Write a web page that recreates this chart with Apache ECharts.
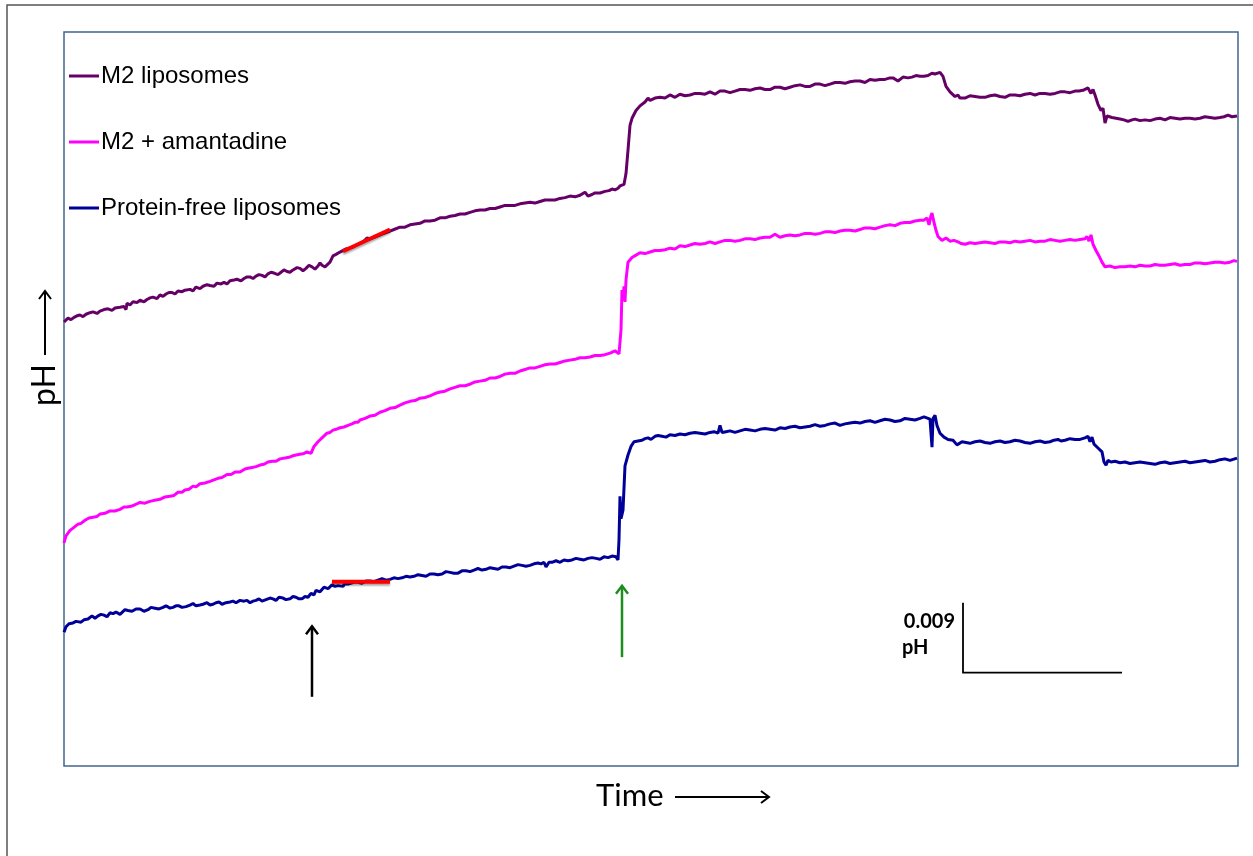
<!DOCTYPE html>
<html><head><meta charset="utf-8">
<script src="https://cdn.jsdelivr.net/npm/echarts@6/dist/echarts.min.js"></script>
<style>html,body{margin:0;padding:0;background:#fff}#c{width:1253px;height:856px}</style>
</head><body><div id="c"></div>
<script>
// Time in arbitrary units (s); pH change in milli-pH units relative to an arbitrary baseline
const seriesNames = ['M2 liposomes', 'M2 + amantadine', 'Protein-free liposomes'];
const seriesColors = ['#660066', '#ff00ff', '#000099'];

const m2Liposomes = [
[0,57.1],[4,57.6],[7,57.4],[10,57.7],[13,57.9],[16,58.0],[19,57.8],[22,58.1],[26,58.3],[29,58.4],[33,58.2],[36,58.5],[40,58.7],[44,58.8],[48,58.6],[51,58.9],[56,59.0],[60,59.1],[62,58.7],[63,59.5],[66,59.3],[69,59.7],[73,59.6],[76,59.9],[80,59.7],[83,60.0],[86,60.2],[89,60.3],[93,60.1],[96,60.6],[99,60.4],[102,60.7],[105,60.9],[108,60.9],[111,60.7],[114,61.1],[118,61.0],[121,61.2],[126,61.3],[129,61.1],[132,61.6],[136,61.4],[139,61.7],[143,61.9],[146,61.8],[150,61.7],[153,62.1],[157,62.0],[160,62.2],[163,62.0],[166,62.4],[170,62.5],[173,62.6],[177,62.4],[180,62.7],[183,62.9],[186,62.9],[189,62.7],[192,63.0],[195,63.2],[198,63.1],[201,62.9],[204,63.3],[207,63.5],[210,63.4],[214,63.2],[217,63.5],[220,63.8],[223,63.6],[226,63.5],[229,63.8],[233,64.1],[236,64.0],[239,63.7],[242,64.0],[245,64.4],[248,64.2],[251,63.9],[254,64.3],[256,64.7],[258,64.4],[261,64.2],[263,64.4],[266,64.8],[269,65.6],[272,65.8],[276,66.1],[282,66.5],[288,66.7],[294,67.1],[300,67.5],[303,67.9],[306,67.8],[312,68.1],[318,68.4],[324,68.7],[330,69.0],[336,69.3],[341,69.3],[346,69.6],[351,69.7],[356,69.8],[361,70.1],[366,70.1],[371,70.2],[376,70.5],[381,70.5],[386,70.7],[391,70.8],[396,71.0],[401,71.0],[406,71.2],[411,71.4],[416,71.5],[421,71.5],[426,71.7],[431,71.7],[436,71.9],[441,72.1],[446,72.1],[451,72.1],[456,72.3],[461,72.4],[466,72.5],[471,72.4],[476,72.6],[481,72.8],[486,72.8],[491,72.8],[496,73.0],[501,73.1],[506,73.3],[511,73.2],[516,73.4],[521,73.8],[524,73.3],[528,73.5],[531,73.7],[536,73.7],[541,73.9],[545,74.0],[548,74.2],[551,74.1],[554,74.3],[556,74.6],[558,74.4],[560,74.8],[562,76.2],[564,79.2],[566,82.4],[568,83.3],[572,84.3],[576,84.9],[581,85.4],[584,85.9],[586,85.6],[591,85.9],
[596,86.0],[601,85.9],[606,86.3],[611,86.0],[616,86.4],[621,86.2],[626,86.3],[631,86.5],[636,86.5],[641,86.4],[646,86.7],[651,86.4],[656,86.8],[661,86.8],[666,86.6],[671,86.8],[676,87.0],[681,87.0],[686,86.9],[691,87.1],[696,87.2],[701,87.0],[706,87.0],[711,87.3],[716,87.3],[721,87.1],[726,87.3],[731,87.5],[736,87.6],[741,87.4],[746,87.4],[751,87.7],[756,87.7],[761,87.5],[766,87.7],[771,87.9],[776,87.9],[781,87.8],[786,88.0],[791,88.1],[796,88.1],[801,87.9],[806,88.3],[811,88.2],[816,88.3],[821,88.3],[826,88.5],[829,88.5],[834,88.1],[839,88.6],[844,88.5],[848,88.6],[852,88.8],[856,88.7],[860,88.7],[864,88.8],[868,89.1],[871,89.0],[876,89.2],
[879,88.7],[882,87.4],[886,86.7],[891,86.1],[894,86.3],[896,85.9],
[901,85.9],[906,86.2],[911,86.1],[916,86.0],[921,86.0],[926,86.2],[931,86.3],[936,86.1],[941,86.0],[946,86.3],[951,86.3],[956,86.2],[961,86.4],[966,86.5],[971,86.3],[976,86.5],[981,86.5],[986,86.4],[991,86.5],[996,86.7],[1001,86.7],[1006,86.6],[1011,86.8],[1015,86.8],[1019,86.9],
[1021,86.9],[1024,87.2],[1027,86.5],[1029,87.0],[1031,86.3],[1034,85.1],[1037,84.3],[1039,84.6],[1041,82.7],[1043,83.6],
[1048,83.4],[1052,83.3],[1056,83.2],[1060,83.1],[1064,82.9],[1068,83.1],[1071,83.2],[1076,83.0],[1081,83.1],[1086,83.0],[1091,83.2],[1096,83.3],[1101,83.1],[1106,83.4],[1111,83.3],[1116,83.2],[1121,83.3],[1126,83.3],[1131,83.2],[1136,83.3],[1141,83.5],[1146,83.4],[1151,83.3],[1156,83.4],[1160,83.5],[1164,83.7],[1168,83.5],[1173,83.6]
];

const m2Amantadine = [
[0,28.7],[2,29.6],[4,29.8],[6,30.3],[9,30.6],[11,30.5],[14,31.1],[17,31.2],[21,31.6],[25,31.9],[29,32.0],[33,32.1],[36,32.4],[41,32.5],[46,32.8],[51,32.8],[56,33.0],[60,33.3],[63,33.3],[67,33.4],[71,33.6],[76,33.9],[81,33.8],[85,34.0],[88,34.1],[92,34.2],[96,34.3],[101,34.6],[106,34.7],[110,34.8],[114,35.2],[118,35.2],[121,35.5],[125,35.6],[129,36.0],[132,35.9],[136,36.3],[141,36.4],[146,36.6],[150,36.8],[154,37.0],[158,37.1],[163,37.5],[167,37.5],[171,37.8],[176,37.8],[181,38.2],[184,38.3],[188,38.4],[192,38.5],[196,38.7],[200,38.8],[204,39.1],[208,39.2],[212,39.2],[216,39.5],[221,39.6],[225,39.7],[229,39.9],[232,40.0],[236,40.1],[240,40.2],[243,40.4],[247,40.2],[250,41.1],[252,41.0],[254,41.7],[258,42.2],[263,42.8],[266,42.9],[269,43.2],[272,43.3],[276,43.5],[280,43.6],[284,43.8],[288,44.0],[291,44.2],[294,44.2],[296,44.5],[301,44.7],[306,45.0],[311,45.1],[316,45.5],[321,45.7],[326,46.0],[331,46.1],[336,46.4],[341,46.7],[346,46.9],[351,47.0],[356,47.3],[361,47.4],[366,47.6],[371,47.9],[376,48.1],[381,48.2],[386,48.5],[391,48.7],[396,48.9],[401,48.9],[406,49.1],[411,49.4],[416,49.5],[421,49.6],[426,49.9],[431,49.9],[436,50.1],[441,50.4],[446,50.5],[451,50.5],[456,50.8],[461,51.0],[466,51.2],[471,51.2],[476,51.4],[481,51.6],[486,51.7],[491,51.7],[496,51.9],[501,52.1],[506,52.2],[511,52.3],[516,52.5],[521,52.5],[526,52.6],[531,52.8],[536,52.8],[541,52.9],[546,53.1],[551,53.4],[553,53.5],[555,53.0],
[557,56.1],[558,61.2],[559,59.9],[560,61.7],[561,59.7],[562,62.5],[564,64.8],[568,65.4],[572,65.7],[576,66.0],[581,65.9],[586,66.1],[591,66.3],[596,66.3],[601,66.4],[606,66.6],[611,66.5],[616,66.9],[621,66.8],[626,67.0],[631,67.2],[636,67.1],[641,67.2],[646,67.4],[651,67.2],[656,67.4],[661,67.6],[666,67.6],[671,67.5],[676,67.6],[681,67.8],[686,67.8],[691,67.7],[696,67.9],[701,68.0],[706,68.0],[711,68.4],[716,68.0],[721,68.2],[726,68.3],[731,68.2],[736,68.3],[741,68.5],[746,68.5],[751,68.4],[756,68.5],[761,68.7],[766,68.7],[771,68.6],[776,68.8],[781,68.9],[786,68.9],[791,68.8],[796,69.0],[801,69.2],[806,69.2],[811,69.1],[816,69.3],[821,69.5],[826,69.6],[831,69.5],[836,69.8],[841,69.9],[846,69.9],[851,70.1],[856,70.2],[860,70.2],[863,70.5],[865,69.6],[867,70.8],[868,71.1],[870,69.9],[872,68.9],[874,68.1],[878,67.6],[882,67.9],[886,67.5],[890,67.6],[894,67.4],
[897,67.2],[901,67.1],[906,67.3],[911,67.2],[916,67.3],[921,67.4],[926,67.3],[931,67.2],[936,67.4],[941,67.4],[946,67.3],[951,67.5],[956,67.4],[961,67.5],[966,67.6],[971,67.4],[976,67.5],[981,67.5],[986,67.7],[991,67.6],[996,67.5],[1001,67.6],[1006,67.7],[1011,67.6],[1016,67.7],[1021,67.8],[1023,68.1],[1025,67.5],[1027,68.3],[1029,67.1],[1032,66.3],[1035,65.6],[1038,64.8],[1041,64.2],
[1046,64.3],[1051,64.1],[1056,64.2],[1061,64.2],[1066,64.3],[1071,64.2],[1076,64.4],[1081,64.3],[1086,64.3],[1091,64.5],[1096,64.4],[1101,64.4],[1106,64.5],[1111,64.6],[1116,64.4],[1121,64.5],[1126,64.5],[1131,64.7],[1136,64.7],[1141,64.6],[1146,64.7],[1151,64.8],[1156,64.8],[1161,64.7],[1166,64.8],[1170,65.0],[1173,64.9]
];

const proteinFree = [
[0,17.2],[2,17.9],[5,18.3],[7,18.1],[9,18.4],[12,18.6],[14,18.5],[17,18.5],[20,18.8],[22,18.6],[24,18.9],[26,19.1],[28,19.3],[31,19.0],[34,19.3],[37,19.5],[40,19.4],[43,19.2],[46,19.7],[49,19.6],[52,19.8],[54,19.9],[56,19.5],[58,19.7],[61,20.1],[64,20.0],[68,19.9],[72,20.2],[76,20.2],[80,19.9],[84,20.1],[87,20.4],[91,20.3],[95,20.2],[99,20.4],[102,20.6],[106,20.3],[109,20.4],[112,20.6],[115,20.6],[118,20.4],[122,20.5],[126,20.7],[129,20.9],[132,20.6],[136,20.7],[139,20.8],[143,21.0],[146,20.7],[149,20.8],[152,21.0],[155,21.1],[158,20.8],[162,21.0],[166,21.1],[169,21.2],[172,21.0],[176,21.3],[180,21.2],[183,21.3],[186,21.0],[189,21.2],[192,21.3],[195,21.5],[198,21.2],[202,21.4],[206,21.6],[209,21.5],[212,21.3],[215,21.7],[219,21.6],[222,21.4],[226,21.5],[229,21.8],[232,21.7],[235,21.5],[238,21.5],[241,21.8],[244,21.7],[247,22.2],[250,22.0],[252,22.6],[254,22.4],[256,22.4],[258,22.6],[260,23.0],[262,22.9],[264,22.8],[266,23.0],[268,23.3],[271,23.1],[274,23.2],[276,23.3],[279,23.1],[281,23.5],[284,23.4],[286,23.3],[289,23.6],[292,23.7],[295,23.6],[298,23.5],[302,23.8],[306,23.8],[310,23.7],[314,23.9],[318,24.1],[322,23.9],[326,24.0],[330,24.2],[334,24.1],[338,24.2],[342,24.4],[346,24.3],[350,24.4],[354,24.6],[358,24.5],[362,24.4],[366,24.7],[370,24.7],[374,24.6],[378,24.7],[382,25.0],[386,24.9],[390,24.8],[394,24.8],[398,25.1],[402,25.1],[406,25.0],[410,25.2],[414,25.4],[418,25.2],[422,25.3],[426,25.5],[430,25.4],[434,25.3],[438,25.6],[442,25.6],[446,25.5],[450,25.7],[454,25.9],[458,25.8],[462,25.7],[466,25.8],[470,26.0],[474,26.1],[477,26.0],[480,26.2],[482,25.6],[485,26.2],[488,26.2],[492,26.4],[496,26.2],[500,26.5],[504,26.4],[508,26.5],[512,26.7],[516,26.6],[520,26.5],[524,26.7],[528,26.8],[532,26.7],[536,26.6],[540,26.9],[544,26.8],[548,27.0],[552,26.9],[554,26.5],
[555,29.1],[556,34.7],[557,31.8],[559,32.9],[561,38.6],[564,40.0],[567,41.1],[570,41.7],[572,41.5],[574,41.8],[576,41.6],[578,41.9],[581,42.1],[584,42.2],[587,42.0],[591,42.4],[594,42.5],[598,42.4],[602,42.3],[606,42.6],[611,42.5],[616,42.7],[621,42.6],[626,42.8],[631,42.9],[636,42.8],[641,42.7],[646,42.9],[650,43.0],[654,42.8],[656,43.8],[658,42.9],[662,43.0],[666,43.1],[671,42.9],[676,43.1],[681,43.3],[686,43.2],[691,43.1],[696,43.3],[701,43.4],[706,43.3],[711,43.2],[716,43.5],[721,43.4],[726,43.6],[731,43.7],[736,43.5],[741,43.6],[746,43.7],[751,43.9],[756,43.7],[761,43.8],[766,44.0],[771,44.1],[776,43.8],[781,44.0],[786,44.1],[791,44.2],[796,44.1],[801,44.3],[806,44.4],[811,44.2],[816,44.4],[821,44.6],[826,44.5],[831,44.3],[836,44.4],[841,44.7],[846,44.6],[851,44.5],[856,44.7],[860,44.9],[862,44.9],[866,44.6],[868,41.0],[869,44.7],[871,45.1],[873,43.8],[876,42.8],[880,42.3],[884,42.0],[889,41.9],[893,41.3],[898,41.7],
[902,41.6],[906,41.5],[911,41.7],[916,41.8],[921,41.6],[926,41.5],[931,41.7],[936,41.8],[941,41.6],[946,41.7],[951,41.9],[956,41.8],[961,41.6],[966,41.5],[971,41.7],[976,41.8],[981,41.6],[986,41.7],[990,41.9],[994,42.0],[997,41.8],[1001,41.9],[1006,42.1],[1011,42.0],[1016,42.0],[1021,42.2],[1024,42.4],[1026,41.7],[1028,42.3],[1030,41.4],[1034,40.9],[1038,40.4],[1040,39.1],[1042,38.7],[1044,39.3],
[1047,39.1],[1051,39.2],[1056,39.0],[1061,39.1],[1066,38.9],[1071,39.0],[1076,39.1],[1081,39.0],[1086,38.9],[1091,38.8],[1096,39.0],[1101,39.1],[1106,38.9],[1111,39.0],[1116,39.1],[1121,39.2],[1126,39.0],[1131,39.1],[1136,39.2],[1141,39.3],[1146,39.1],[1151,39.2],[1156,39.4],[1161,39.5],[1166,39.3],[1173,39.6]
];

// initial-rate fit segments (red)
const rateFits = [
  [[279, 66.2], [326, 69.0]],
  [[268, 23.7], [326, 23.7]]
];
// addition arrows: [time, tail value, tip value]
const additionArrows = [[248, 8.9, 18.1], [558, 14.0, 23.3]];
const arrowColors = ['#000000', '#1f8c1f'];
// scale bar: corner time, corner value, 0.009 pH = 9 milli-pH, time length
const scaleBar = [[899, 12.0, 9, 159]];
const scaleBarLabels = ['0.009', 'pH'];

const chart = echarts.init(document.getElementById('c'), null, {renderer: 'canvas'});
const traces = [m2Liposomes, m2Amantadine, proteinFree];

const series = traces.map((d, i) => ({
  name: seriesNames[i], type: 'line', data: d, showSymbol: false, symbol: 'none',
  lineStyle: {color: seriesColors[i], width: 3}, itemStyle: {color: seriesColors[i]},
  z: 3, silent: true
}));

rateFits.forEach(seg => series.push({
  type: 'line', data: seg, showSymbol: false, symbol: 'none', silent: true, z: 6,
  lineStyle: {color: '#ff0000', width: 4, shadowColor: 'rgba(0,0,0,0.35)', shadowBlur: 2, shadowOffsetY: 2}
}));

series.push({
  type: 'custom', silent: true, z: 5,
  renderItem: function (params, api) {
    const p0 = api.coord([api.value(0), api.value(1)]);
    const p1 = api.coord([api.value(0), api.value(2)]);
    const c = api.visual('color');
    return {type: 'group', children: [
      {type: 'line', shape: {x1: p0[0], y1: p0[1], x2: p1[0], y2: p1[1] + 1}, style: {stroke: c, lineWidth: 2.5}},
      {type: 'polyline', shape: {points: [[p1[0] - 6, p1[1] + 9], [p1[0], p1[1] + 1], [p1[0] + 6, p1[1] + 9]]}, style: {stroke: c, lineWidth: 2.5, fill: null}}
    ]};
  },
  data: additionArrows.map((a, i) => ({value: a, itemStyle: {color: arrowColors[i]}}))
});

series.push({
  type: 'custom', silent: true, z: 5,
  renderItem: function (params, api) {
    const c0 = api.coord([api.value(0), api.value(1)]);
    const cTop = api.coord([api.value(0), api.value(1) + api.value(2)]);
    const cRight = api.coord([api.value(0) + api.value(3), api.value(1)]);
    const font = 'bold 20px Lato';
    return {type: 'group', children: [
      {type: 'polyline', shape: {points: [cTop, c0, cRight]}, style: {stroke: '#000', lineWidth: 1.8, fill: null}},
      {type: 'text', x: c0[0] - 8, y: cTop[1] + 19, style: {text: scaleBarLabels[0], font: font, fill: '#000', textAlign: 'right', textVerticalAlign: 'middle'}},
      {type: 'text', x: c0[0] - 61, y: cTop[1] + 45, style: {text: scaleBarLabels[1], font: font, fill: '#000', textAlign: 'left', textVerticalAlign: 'middle'}}
    ]};
  },
  data: scaleBar
});

chart.setOption({
  animation: false,
  backgroundColor: '#fff',
  grid: {left: 64, right: 15, top: 32, bottom: 90, show: true, borderColor: '#41668f', borderWidth: 1.5, backgroundColor: 'transparent'},
  xAxis: {type: 'value', min: 0, max: 1174, show: false},
  yAxis: {type: 'value', min: 0, max: 94.4, show: false},
  legend: {
    orient: 'vertical', left: 69, top: 64, padding: 0, itemWidth: 30, itemHeight: 3, itemGap: 42, icon: 'rect',
    data: seriesNames, selectedMode: false,
    textStyle: {fontFamily: 'Liberation Sans', fontSize: 24, color: '#000', padding: [0, 0, 0, -3]}
  },
  graphic: [
    {type: 'rect', shape: {x: 7, y: 5, width: 1400, height: 1000}, style: {stroke: '#555', lineWidth: 1.5, fill: null}, z: -1},
    {type: 'text', x: 596, y: 796, style: {text: 'Time', font: '31px Lato', fill: '#000', textAlign: 'left', textVerticalAlign: 'middle'}},
    {type: 'line', shape: {x1: 675, y1: 797, x2: 769, y2: 797}, style: {stroke: '#000', lineWidth: 2}},
    {type: 'polyline', shape: {points: [[761, 791], [769, 797], [761, 803]]}, style: {stroke: '#000', lineWidth: 2, fill: null}},
    {type: 'text', x: 45, y: 385, rotation: Math.PI / 2, style: {text: 'pH', font: '32px Lato', fill: '#000', textAlign: 'center', textVerticalAlign: 'middle'}},
    {type: 'line', shape: {x1: 45, y1: 355, x2: 45, y2: 291}, style: {stroke: '#000', lineWidth: 2}},
    {type: 'polyline', shape: {points: [[39, 299], [45, 291], [51, 299]]}, style: {stroke: '#000', lineWidth: 2, fill: null}}
  ],
  series: series
});
</script></body></html>
